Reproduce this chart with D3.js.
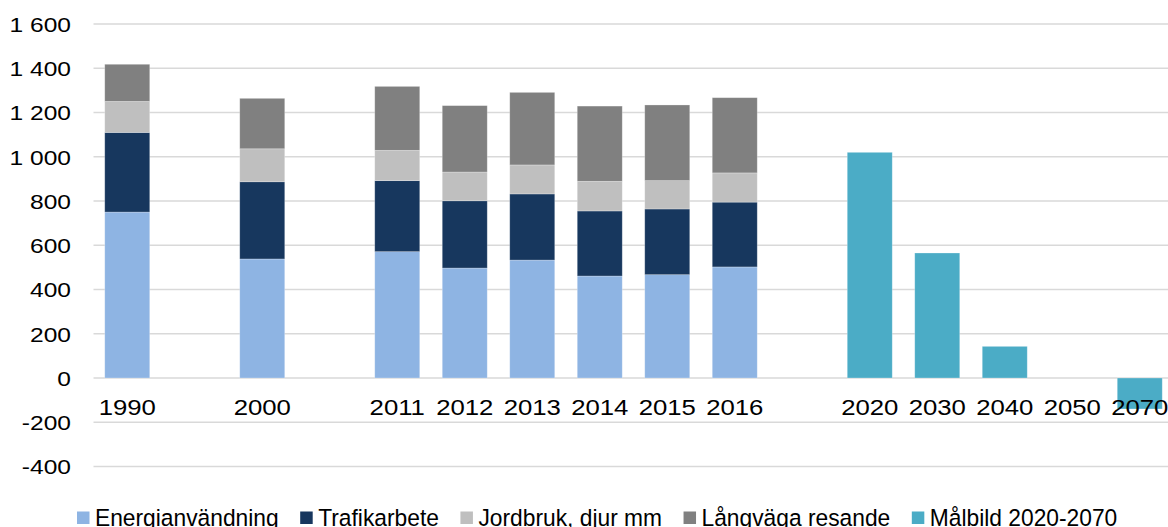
<!DOCTYPE html>
<html>
<head>
<meta charset="utf-8">
<script src="https://cdn.jsdelivr.net/npm/d3@7"></script>
<style>
    body { margin: 0; background: #fff; }
    svg { display: block; }
</style>
</head>
<body>
<div id="chart"></div>
<script>
// Categories (empty slots keep the gaps between groups)
const categories = ['1990', 'g1', '2000', 'g2', '2011', '2012', '2013', '2014', '2015', '2016', 'g3', '2020', '2030', '2040', '2050', '2070'];
const tickLabels = ['1990', '', '2000', '', '2011', '2012', '2013', '2014', '2015', '2016', '', '2020', '2030', '2040', '2050', '2070'];

// Stacked series (null = no bar)
const energianvandning = [750, null, 538, null, 571, 497, 533, 461, 467, 502, null, null, null, null, null, null];
const trafikarbete     = [360, null, 349, null, 321, 304, 299, 294, 297, 293, null, null, null, null, null, null];
const jordbruk         = [140, null, 149, null, 137, 130, 131, 134, 128, 132, null, null, null, null, null, null];
const langvaga         = [168, null, 228, null, 289, 300, 328, 340, 342, 340, null, null, null, null, null, null];
const malbild          = [null, null, null, null, null, null, null, null, null, null, null, 1020, 565, 143, 0, -140];

const yTicks = [-400, -200, 0, 200, 400, 600, 800, 1000, 1200, 1400, 1600];

const seriesNames = ['Energianvändning', 'Trafikarbete', 'Jordbruk, djur mm', 'Långväga resande', 'Målbild 2020-2070'];
const colors = ['#8eb4e3', '#17375e', '#bfbfbf', '#808080', '#4bacc6'];

const width = 1168, height = 527;
const plotLeft = 93.5, plotRight = 1173.5;
const textScale = 1.17;
const legendScale = 0.97;

const locale = d3.formatLocale({ decimal: ',', thousands: '\u00a0', grouping: [3], currency: ['', ' kr'], minus: '-' });
const fmt = locale.format(',d');

const svg = d3.select('#chart').append('svg')
    .attr('width', width)
    .attr('height', height);

const x = d3.scaleBand()
    .domain(categories)
    .range([plotLeft, plotRight])
    .paddingInner(1 / 3)
    .paddingOuter(1 / 6);

const y = d3.scaleLinear()
    .domain([-400, 1600])
    .range([466.5, 24]);

// Gridlines
svg.append('g')
    .selectAll('line')
    .data(yTicks)
    .enter()
    .append('line')
    .attr('x1', plotLeft)
    .attr('x2', width)
    .attr('y1', d => y(d))
    .attr('y2', d => y(d))
    .attr('stroke', '#d9d9d9')
    .attr('stroke-width', 1.5);

// Y axis labels
const yAxis = d3.axisLeft(y)
    .tickValues(yTicks)
    .tickSize(0)
    .tickFormat(d => fmt(d));

const yg = svg.append('g')
    .attr('transform', `translate(${plotLeft},0)`)
    .call(yAxis);
yg.select('.domain').remove();
yg.selectAll('text')
    .attr('x', -22.5 / textScale)
    .attr('dy', '0.35em')
    .attr('transform', `scale(${textScale},1)`)
    .style('font-family', '"Liberation Sans", Arial, sans-serif')
    .style('font-size', '21px')
    .style('fill', '#000');

// Stacked bars
const rows = categories.map((c, i) => ({
    cat: c,
    s0: energianvandning[i],
    s1: trafikarbete[i],
    s2: jordbruk[i],
    s3: langvaga[i]
})).filter(r => r.s0 !== null);

const stack = d3.stack().keys(['s0', 's1', 's2', 's3']);
const stacked = stack(rows);

stacked.forEach((layer, li) => {
    svg.append('g')
        .selectAll('rect')
        .data(layer)
        .enter()
        .append('rect')
        .attr('x', d => x(d.data.cat))
        .attr('width', x.bandwidth())
        .attr('y', d => y(d[1]))
        .attr('height', d => y(d[0]) - y(d[1]))
        .attr('fill', colors[li])
        .attr('stroke', '#ffffff')
        .attr('stroke-opacity', 0.35)
        .attr('stroke-width', 0.75);
});

// Målbild bars
const goal = categories.map((c, i) => ({ cat: c, value: malbild[i] }))
    .filter(d => d.value !== null && d.value !== 0);

svg.append('g')
    .selectAll('rect')
    .data(goal)
    .enter()
    .append('rect')
    .attr('x', d => x(d.cat))
    .attr('width', x.bandwidth())
    .attr('y', d => y(Math.max(0, d.value)))
    .attr('height', d => Math.abs(y(d.value) - y(0)))
    .attr('fill', colors[4])
    .attr('stroke', '#ffffff')
    .attr('stroke-opacity', 0.35)
    .attr('stroke-width', 0.75);

// X axis labels
const xAxis = d3.axisBottom(x)
    .tickSize(0)
    .tickPadding(21)
    .tickFormat((d, i) => tickLabels[i]);

const xg = svg.append('g')
    .attr('transform', `translate(0,${y(0)})`)
    .call(xAxis);
xg.select('.domain').remove();
xg.selectAll('text')
    .attr('transform', `scale(${textScale},1)`)
    .style('font-family', '"Liberation Sans", Arial, sans-serif')
    .style('font-size', '22px')
    .style('fill', '#000');

// Legend (text slightly narrowed to mimic the legend font)
let lx = 77;
seriesNames.forEach((name, i) => {
    const item = svg.append('g')
        .attr('transform', `translate(${lx},0)`);

    item.append('rect')
        .attr('x', 0)
        .attr('y', 511.5)
        .attr('width', 12.5)
        .attr('height', 12.5)
        .attr('fill', colors[i]);

    const t = item.append('text')
        .attr('x', 18 / legendScale)
        .attr('y', 526)
        .attr('transform', `scale(${legendScale},1)`)
        .style('font-family', '"Liberation Sans", Arial, sans-serif')
        .style('font-size', '23.5px')
        .style('fill', '#000')
        .text(name);

    lx += 18 + t.node().getComputedTextLength() * legendScale + 21.5;
});
</script>
</body>
</html>
